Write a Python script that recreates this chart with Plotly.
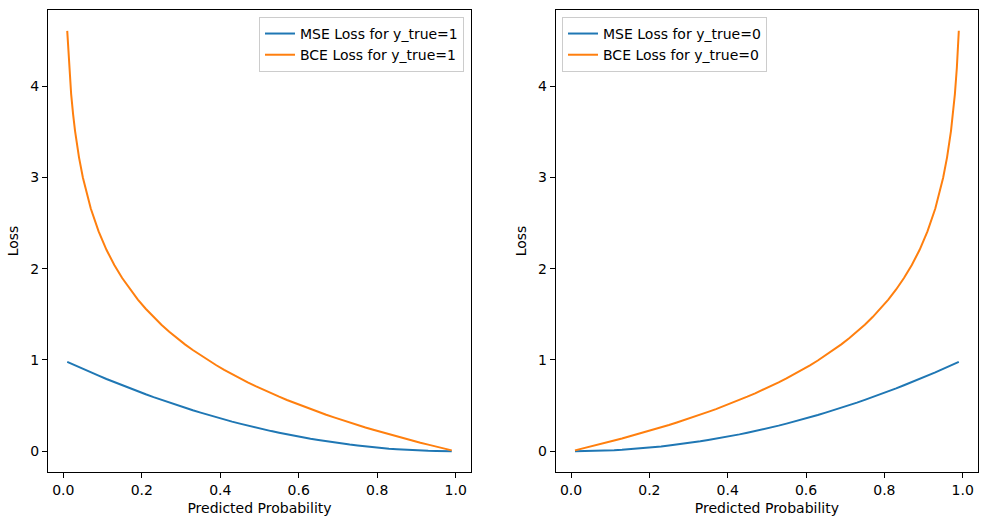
import plotly.graph_objects as go

# Left panel (y_true = 1)
p_left = [0.01, 0.015, 0.02, 0.025, 0.03, 0.04, 0.05, 0.07, 0.09, 0.11, 0.13, 0.15, 0.17, 0.19,
          0.21, 0.23, 0.25, 0.27, 0.29, 0.31, 0.33, 0.35, 0.37, 0.39, 0.41, 0.43, 0.45, 0.47,
          0.49, 0.51, 0.53, 0.55, 0.57, 0.59, 0.61, 0.63, 0.65, 0.67, 0.69, 0.71, 0.73, 0.75,
          0.77, 0.79, 0.81, 0.83, 0.85, 0.87, 0.89, 0.91, 0.93, 0.95, 0.97, 0.99]
mse_left = [0.980, 0.970, 0.960, 0.951, 0.941, 0.922, 0.903, 0.865, 0.828, 0.792, 0.757, 0.723, 0.689, 0.656,
            0.624, 0.593, 0.563, 0.533, 0.504, 0.476, 0.449, 0.423, 0.397, 0.372, 0.348, 0.325, 0.303, 0.281,
            0.260, 0.240, 0.221, 0.203, 0.185, 0.168, 0.152, 0.137, 0.123, 0.109, 0.096, 0.084, 0.073, 0.063,
            0.053, 0.044, 0.036, 0.029, 0.023, 0.017, 0.012, 0.008, 0.005, 0.003, 0.001, 0.000]
bce_left = [4.605, 4.200, 3.912, 3.689, 3.507, 3.219, 2.996, 2.659, 2.408, 2.207, 2.040, 1.897, 1.772, 1.661,
            1.561, 1.470, 1.386, 1.309, 1.238, 1.171, 1.109, 1.050, 0.994, 0.942, 0.892, 0.844, 0.799, 0.755,
            0.713, 0.673, 0.635, 0.598, 0.562, 0.528, 0.494, 0.462, 0.431, 0.400, 0.371, 0.342, 0.315, 0.288,
            0.261, 0.236, 0.211, 0.186, 0.163, 0.139, 0.117, 0.094, 0.073, 0.051, 0.030, 0.010]

# Right panel (y_true = 0)
p_right = [0.01, 0.03, 0.05, 0.07, 0.09, 0.11, 0.13, 0.15, 0.17, 0.19, 0.21, 0.23, 0.25, 0.27,
           0.29, 0.31, 0.33, 0.35, 0.37, 0.39, 0.41, 0.43, 0.45, 0.47, 0.49, 0.51, 0.53, 0.55,
           0.57, 0.59, 0.61, 0.63, 0.65, 0.67, 0.69, 0.71, 0.73, 0.75, 0.77, 0.79, 0.81, 0.83,
           0.85, 0.87, 0.89, 0.91, 0.93, 0.95, 0.96, 0.97, 0.975, 0.98, 0.985, 0.99]
mse_right = [0.000, 0.001, 0.003, 0.005, 0.008, 0.012, 0.017, 0.023, 0.029, 0.036, 0.044, 0.053, 0.063, 0.073,
             0.084, 0.096, 0.109, 0.123, 0.137, 0.152, 0.168, 0.185, 0.203, 0.221, 0.240, 0.260, 0.281, 0.303,
             0.325, 0.348, 0.372, 0.397, 0.423, 0.449, 0.476, 0.504, 0.533, 0.563, 0.593, 0.624, 0.656, 0.689,
             0.723, 0.757, 0.792, 0.828, 0.865, 0.903, 0.922, 0.941, 0.951, 0.960, 0.970, 0.980]
bce_right = [0.010, 0.030, 0.051, 0.073, 0.094, 0.117, 0.139, 0.163, 0.186, 0.211, 0.236, 0.261, 0.288, 0.315,
             0.342, 0.371, 0.400, 0.431, 0.462, 0.494, 0.528, 0.562, 0.598, 0.635, 0.673, 0.713, 0.755, 0.799,
             0.844, 0.892, 0.942, 0.994, 1.050, 1.109, 1.171, 1.238, 1.309, 1.386, 1.470, 1.561, 1.661, 1.772,
             1.897, 2.040, 2.207, 2.408, 2.659, 2.996, 3.219, 3.507, 3.689, 3.912, 4.200, 4.605]

x_ticks = [0.0, 0.2, 0.4, 0.6, 0.8, 1.0]
x_tick_text = ["0.0", "0.2", "0.4", "0.6", "0.8", "1.0"]
y_ticks = [0, 1, 2, 3, 4]

BLUE = "#1f77b4"
ORANGE = "#ff7f0e"
FONT = "DejaVu Sans"
FS = 14

fig = go.Figure()
fig.add_trace(go.Scatter(x=p_left, y=mse_left, mode="lines", name="MSE Loss for y_true=1",
                         line=dict(color=BLUE, width=2), xaxis="x", yaxis="y", legend="legend"))
fig.add_trace(go.Scatter(x=p_left, y=bce_left, mode="lines", name="BCE Loss for y_true=1",
                         line=dict(color=ORANGE, width=2), xaxis="x", yaxis="y", legend="legend"))
fig.add_trace(go.Scatter(x=p_right, y=mse_right, mode="lines", name="MSE Loss for y_true=0",
                         line=dict(color=BLUE, width=2), xaxis="x2", yaxis="y2", legend="legend2"))
fig.add_trace(go.Scatter(x=p_right, y=bce_right, mode="lines", name="BCE Loss for y_true=0",
                         line=dict(color=ORANGE, width=2), xaxis="x2", yaxis="y2", legend="legend2"))

axis_common = dict(showline=True, linecolor="black", linewidth=1, mirror=True, showgrid=False,
                   zeroline=False, ticks="outside", ticklen=5, tickcolor="black", tickwidth=1,
                   automargin=False,
                   tickfont=dict(family=FONT, size=FS, color="black"))
xcommon = dict(axis_common, range=[-0.039, 1.039], tickvals=x_ticks, ticktext=x_tick_text,
               title=dict(text="Predicted Probability", font=dict(family=FONT, size=FS, color="black"), standoff=6))
ycommon = dict(axis_common, range=[-0.227, 4.833], tickvals=y_ticks,
               title=dict(text="Loss", font=dict(family=FONT, size=FS, color="black"), standoff=8))

legend_common = dict(bgcolor="white", bordercolor="#cccccc", borderwidth=1,
                     font=dict(family=FONT, size=FS, color="black"), yanchor="top", tracegroupgap=0)

fig.update_layout(
    width=988, height=525,
    margin=dict(l=48, r=10, t=10, b=53),
    paper_bgcolor="white", plot_bgcolor="white",
    font=dict(family=FONT, size=FS, color="black"),
    xaxis=dict(xcommon, domain=[0.0, 0.4548], anchor="y"),
    yaxis=dict(ycommon, domain=[0, 1], anchor="x"),
    xaxis2=dict(xcommon, domain=[0.546, 1.0], anchor="y2"),
    yaxis2=dict(ycommon, domain=[0, 1], anchor="x2"),
    legend=dict(legend_common, x=0.4473, xanchor="right", y=0.985),
    legend2=dict(legend_common, x=0.5527, xanchor="left", y=0.985),
)

fig.write_html("out.html", config={"displayModeBar": False},
               post_script="document.body.style.margin='0';document.body.style.overflow='hidden';")
